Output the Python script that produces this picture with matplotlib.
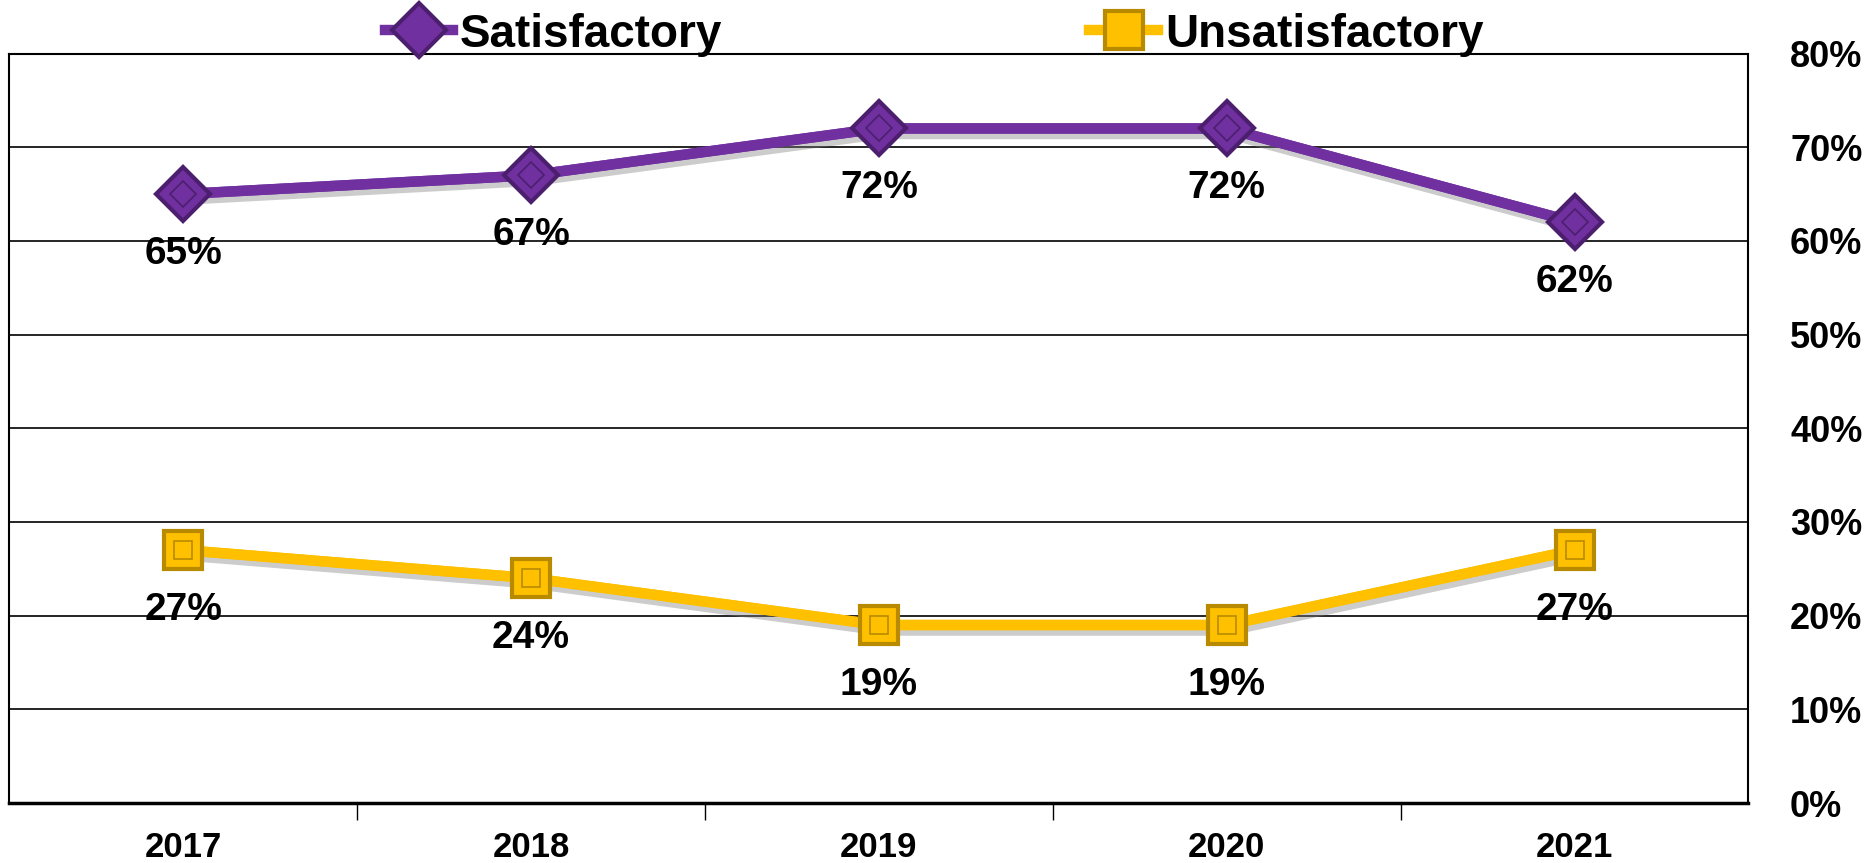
import numpy as np
import matplotlib
matplotlib.use('Agg')
import matplotlib.pyplot as plt
import matplotlib.patheffects as pe
from matplotlib.ticker import FixedLocator, PercentFormatter

plt.rcParams['font.family'] = ['Liberation Sans', 'DejaVu Sans']
plt.rcParams['font.weight'] = 'bold'

years = ['2017', '2018', '2019', '2020', '2021']
satisfactory = [65, 67, 72, 72, 62]
unsatisfactory = [27, 24, 19, 19, 27]
y_ticks = [0, 10, 20, 30, 40, 50, 60, 70, 80]

purple = '#7030A0'
gold = '#FFC000'

fig = plt.figure(figsize=(18.68, 8.63), dpi=100)
ax = fig.add_axes([0.005, 0.0695, 0.931, 0.8685])

x = np.arange(len(years))
shadow = [pe.SimpleLineShadow(offset=(2, -4), alpha=0.4, shadow_color='gray'), pe.Normal()]

series = [
    ('Satisfactory', satisfactory, purple, '#4B1F6E', 'D', 27),
    ('Unsatisfactory', unsatisfactory, gold, '#B88A00', 's', 27),
]
handles = []
for name, vals, col, edge, mk, ms in series:
    ax.plot(x, vals, color=col, lw=7.5, zorder=3, path_effects=shadow, solid_capstyle='round')
    h, = ax.plot(x, vals, color=col, lw=7.5, marker=mk, markersize=ms,
                 markerfacecolor=col, markeredgecolor=edge, markeredgewidth=3,
                 zorder=4, label=name)
    ax.plot(x, vals, ls='none', marker=mk, markersize=ms * 0.5,
            markerfacecolor=col, markeredgecolor=edge, markeredgewidth=1.2, zorder=5)
    handles.append(h)
    for xi, v in zip(x, vals):
        ax.annotate(f'{v}%', (xi, v), xytext=(0, -43), textcoords='offset points',
                    ha='center', va='center', fontsize=28, fontweight='bold', zorder=6)

ax.set_xlim(-0.5, len(years) - 0.5)
ax.set_ylim(0, 80)
ax.set_xticks(x)
ax.set_xticklabels(years, fontsize=25, fontweight='bold')
ax.xaxis.set_minor_locator(FixedLocator(np.arange(0.5, len(years) - 0.5, 1)))
ax.tick_params(axis='x', which='major', length=0, pad=20)
ax.tick_params(axis='x', which='minor', length=12, width=1, direction='out')

ax.yaxis.tick_right()
ax.set_yticks(y_ticks)
ax.yaxis.set_major_formatter(PercentFormatter(decimals=0))
ax.tick_params(axis='y', length=0, pad=30, labelsize=26)
for lab in ax.get_yticklabels():
    lab.set_fontweight('bold')

ax.grid(axis='y', color='black', lw=1.2)
ax.set_axisbelow(True)
for s in ax.spines.values():
    s.set_color('black')
    s.set_linewidth(1.5)
ax.spines['bottom'].set_linewidth(2.5)

fig.legend(handles=handles, loc='center', bbox_to_anchor=(0.5, 0.96), ncol=2,
           frameon=False, handlelength=1.5, handletextpad=0.15,
           columnspacing=8, markerscale=1.0,
           prop={'weight': 'bold', 'size': 33})

fig.savefig('out.png', dpi=100)
